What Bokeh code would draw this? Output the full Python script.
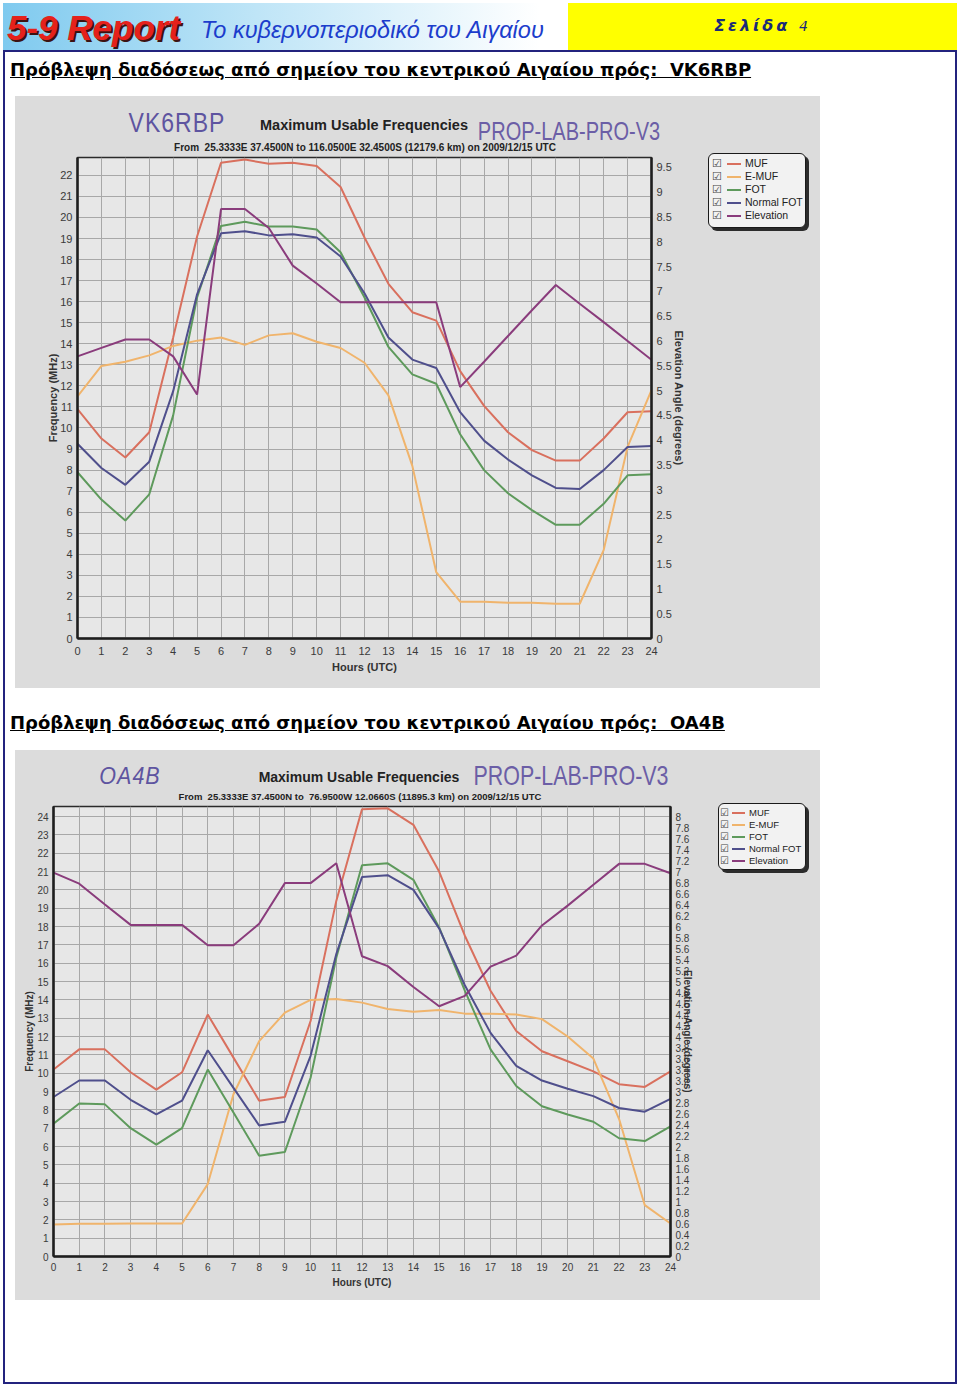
from bokeh.plotting import figure
from bokeh.models import (Range1d, LinearAxis, FixedTicker, CustomJSTickFormatter, Div, Spacer)
from bokeh.layouts import column, row
from bokeh.embed import file_html
from bokeh.resources import INLINE

# ---------------- data ----------------
hours = list(range(25))
series_names = ["MUF", "E-MUF", "FOT", "Normal FOT", "Elevation"]
series_colors = ["#d9705e", "#f0b46c", "#5e9a5c", "#4f4f8c", "#8a3c7c"]

# Chart 1: VK6RBP (MHz, elevation in degrees)
vk_muf = [10.9, 9.5, 8.6, 9.8, 14.3, 19.1, 22.6, 22.75, 22.55, 22.6, 22.45, 21.45, 19.05,
          16.85, 15.5, 15.1, 12.7, 11.05, 9.8, 8.95, 8.45, 8.45, 9.5, 10.75, 10.8]
vk_emuf = [11.5, 12.95, 13.15, 13.45, 13.9, 14.15, 14.3, 13.95, 14.4, 14.5, 14.1, 13.8, 13.1,
           11.55, 8.2, 3.15, 1.75, 1.75, 1.7, 1.7, 1.65, 1.65, 4.2, 9.1, 11.8]
vk_fot = [7.9, 6.6, 5.6, 6.85, 10.6, 16.2, 19.6, 19.8, 19.57, 19.57, 19.43, 18.35, 16.2,
          13.85, 12.55, 12.1, 9.7, 8.0, 6.9, 6.1, 5.4, 5.4, 6.4, 7.75, 7.8]
vk_nfot = [9.25, 8.1, 7.3, 8.4, 11.75, 16.35, 19.25, 19.35, 19.15, 19.2, 19.05, 18.15, 16.4,
           14.3, 13.25, 12.85, 10.75, 9.4, 8.5, 7.75, 7.15, 7.1, 8.0, 9.1, 9.15]
vk_elev = [5.69, 5.86, 6.03, 6.03, 5.69, 4.92, 8.66, 8.66, 8.28, 7.52, 7.16, 6.78, 6.78,
           6.78, 6.78, 6.78, 5.07, 5.58, 6.1, 6.62, 7.13, 6.75, 6.38, 6.0, 5.62]
vk_freq_ticks = [0, 1, 2, 3, 4, 5, 6, 7, 8, 9, 10, 11, 12, 13, 14, 15, 16, 17, 18, 19, 20, 21, 22]
vk_elev_ticks = [0, 0.5, 1, 1.5, 2, 2.5, 3, 3.5, 4, 4.5, 5, 5.5, 6, 6.5, 7, 7.5, 8, 8.5, 9, 9.5]

# Chart 2: OA4B
oa_muf = [10.2, 11.3, 11.3, 10.05, 9.1, 10.05, 13.2, 10.85, 8.5, 8.7, 12.85, 19.4, 24.4,
          24.45, 23.55, 21.0, 17.5, 14.5, 12.3, 11.2, 10.65, 10.1, 9.4, 9.25, 10.1]
oa_emuf = [1.75, 1.78, 1.78, 1.8, 1.8, 1.8, 3.95, 8.85, 11.75, 13.3, 14.0, 14.05, 13.85,
           13.5, 13.35, 13.45, 13.25, 13.25, 13.2, 12.95, 12.0, 10.8, 7.5, 2.8, 1.8]
oa_fot = [7.25, 8.35, 8.3, 7.0, 6.1, 7.0, 10.2, 7.85, 5.5, 5.7, 9.75, 16.3, 21.35,
          21.45, 20.55, 17.95, 14.5, 11.3, 9.3, 8.2, 7.75, 7.35, 6.45, 6.3, 7.1]
oa_nfot = [8.7, 9.6, 9.6, 8.55, 7.75, 8.5, 11.25, 9.2, 7.15, 7.35, 10.95, 16.5, 20.7,
           20.8, 20.0, 17.9, 14.8, 12.2, 10.4, 9.6, 9.15, 8.75, 8.1, 7.9, 8.6]
oa_elev = [6.98, 6.78, 6.4, 6.03, 6.03, 6.03, 5.66, 5.66, 6.05, 6.79, 6.79, 7.15, 5.46,
           5.28, 4.9, 4.55, 4.74, 5.27, 5.47, 6.02, 6.38, 6.76, 7.14, 7.14, 6.97]
oa_freq_ticks = [0, 1, 2, 3, 4, 5, 6, 7, 8, 9, 10, 11, 12, 13, 14, 15, 16, 17, 18, 19, 20,
                 21, 22, 23, 24]
oa_elev_ticks = [0, 0.2, 0.4, 0.6, 0.8, 1, 1.2, 1.4, 1.6, 1.8, 2, 2.2, 2.4, 2.6, 2.8, 3,
                 3.2, 3.4, 3.6, 3.8, 4, 4.2, 4.4, 4.6, 4.8, 5, 5.2, 5.4, 5.6, 5.8, 6, 6.2,
                 6.4, 6.6, 6.8, 7, 7.2, 7.4, 7.6, 7.8, 8]

header_brand = "5-9 Report"
header_sub = "Το κυβερνοπεριοδικό του Αιγαίου"
header_page = "Σελίδα"
header_page_no = "4"
heading1 = "Πρόβλεψη διαδόσεως από σημείον του κεντρικού Αιγαίου πρός:  VK6RBP"
heading2 = "Πρόβλεψη διαδόσεως από σημείον του κεντρικού Αιγαίου πρός:  OA4B"
chart_title = "Maximum Usable Frequencies"
hand_prog = "PROP-LAB-PRO-V3"
sub1 = "From  25.3333E 37.4500N to 116.0500E 32.4500S (12179.6 km) on 2009/12/15 UTC"
sub2 = "From  25.3333E 37.4500N to  76.9500W 12.0660S (11895.3 km) on 2009/12/15 UTC"

# ---------------- styling ----------------
PAGE_BG = "#dcdcdc"
PLOT_BG = "#e7e7e7"
GRID = "#a8a8a8"
LEG_BG = "#f2f2f2"
HAND = "'Liberation Sans',sans-serif"


def make_fig(cfg):
    p = figure(width=cfg["W"], height=cfg["H"], x_range=Range1d(0, 24),
               y_range=Range1d(0, cfg["ymax"]), output_backend="svg", toolbar_location=None,
               min_border_left=cfg["bl"], min_border_right=cfg["br"],
               min_border_top=cfg["bt"], min_border_bottom=cfg["bb"],
               background_fill_color=PLOT_BG, border_fill_color=PAGE_BG,
               outline_line_color="#2a2a2a", outline_line_width=1.5, margin=0)
    p.extra_y_ranges = {"elev": Range1d(0, cfg["emax"])}
    xa = p.xaxis[0]
    ya = p.yaxis[0]
    xa.ticker = FixedTicker(ticks=hours)
    ya.ticker = FixedTicker(ticks=cfg["fticks"])
    ea = LinearAxis(y_range_name="elev", ticker=FixedTicker(ticks=cfg["eticks"]),
                    formatter=CustomJSTickFormatter(code="return String(Math.round(tick*10)/10);"))
    p.add_layout(ea, "right")
    xa.axis_label = "Hours (UTC)"
    ya.axis_label = "Frequency (MHz)"
    ea.axis_label = "Elevation Angle (degrees)"
    for ax in (xa, ya, ea):
        ax.axis_line_color = "#1e1e1e"
        ax.axis_line_width = 2.5
        ax.major_tick_in = 0
        ax.major_tick_out = 0
        ax.minor_tick_in = 0
        ax.minor_tick_out = 0
        ax.major_label_text_font = "Liberation Sans"
        ax.major_label_text_font_size = cfg["tick_fs"]
        ax.major_label_text_color = "#3a3a3a"
        ax.axis_label_text_font = "Liberation Sans"
        ax.axis_label_text_font_style = "bold"
        ax.axis_label_text_font_size = cfg["lab_fs"]
        ax.axis_label_text_color = "#333333"
        ax.major_label_standoff = 5
    xa.major_label_standoff = cfg["x_std"]
    xa.axis_label_standoff = 3
    ya.axis_label_standoff = cfg["y_lab_std"]
    ea.axis_label_standoff = cfg["e_lab_std"]
    p.xgrid.ticker = FixedTicker(ticks=hours)
    p.ygrid.ticker = FixedTicker(ticks=cfg["fticks"])
    p.grid.grid_line_color = GRID
    p.grid.grid_line_width = 1

    for col, ys in zip(series_colors[:4], cfg["series"]):
        p.line(hours, ys, line_color=col, line_width=2)
    p.line(hours, cfg["elev"], line_color=series_colors[4], line_width=2, y_range_name="elev")
    return p


def strip_div(cfg):
    spans = []
    for txt, x, y, fs, weight, style, color, font, ls, sy in cfg["texts"]:
        spans.append(
            f"<span style=\"position:absolute;left:{x}px;top:{y}px;"
            f"transform:translate(-50%,-50%) scaleY({sy});"
            f"white-space:pre;font-family:{font};font-size:{fs}px;font-weight:{weight};"
            f"font-style:{style};color:{color};letter-spacing:{ls}px;line-height:1;\">{txt}</span>")
    html = (f"<div style=\"position:relative;width:{cfg['W']}px;height:{cfg['SH']}px;"
            f"background:{PAGE_BG};overflow:hidden;\">" + "".join(spans) + "</div>")
    return Div(text=html, width=cfg["W"], height=cfg["SH"], margin=0,
               styles={"background": PAGE_BG})


def legend_div(cfg):
    lg = cfg["leg"]
    rows = []
    for name, colr in zip(series_names, series_colors):
        rows.append(
            f"<div style=\"height:{lg['rh']}px;display:flex;align-items:center;white-space:nowrap;\">"
            f"<span style=\"display:inline-block;width:{lg['cw']}px;font-family:'DejaVu Sans';"
            f"font-size:{lg['cfs']}px;color:#444;line-height:1;\">☑</span>"
            f"<span style=\"display:inline-block;width:{lg['lw']}px;height:2px;background:{colr};"
            f"margin:0 4px 0 {lg['gap']}px;\"></span>"
            f"<span>{name}</span></div>")
    box = (f"<div style=\"position:absolute;left:{lg['x']}px;top:{lg['y']}px;width:{lg['w']}px;"
           f"height:{lg['h']}px;box-sizing:border-box;background:{LEG_BG};"
           f"border:1.5px solid #1a1a1a;border-radius:6px;box-shadow:3px 3px 0 #2c2c2c;"
           f"font-family:'Liberation Sans';font-size:{lg['fs']}px;color:#222;"
           f"padding:{lg['pt']}px 0 0 {lg['pl']}px;\">" + "".join(rows) + "</div>")
    html = (f"<div style=\"position:relative;width:{cfg['SW']}px;height:{cfg['TH']}px;"
            f"background:{PAGE_BG};\">" + box + "</div>")
    return Div(text=html, width=cfg["SW"], height=cfg["TH"], margin=0,
               styles={"background": PAGE_BG})


def make_block(cfg):
    fig = make_fig(cfg)
    left = column(strip_div(cfg), fig, spacing=0, margin=0, styles={"background": PAGE_BG})
    return row(left, legend_div(cfg), spacing=0, margin=(0, 0, 0, 10),
               styles={"background": PAGE_BG})


cfg1 = dict(W=676, H=534, SH=58, SW=129, TH=592, bl=62, br=40, bt=3, bb=50,
            ymax=22.85, emax=9.70, fticks=vk_freq_ticks, eticks=vk_elev_ticks,
            tick_fs="11px", lab_fs="11px", x_std=8, y_lab_std=-2, e_lab_std=-2,
            series=[vk_muf, vk_emuf, vk_fot, vk_nfot], elev=vk_elev,
            texts=[("VK6RBP", 162, 27, 23, "normal", "normal", "#5e54a0", HAND, 1, 1.2),
                   (chart_title, 349, 29, 14.5, "bold", "normal", "#222", "'Liberation Sans'", 0, 1),
                   (hand_prog, 554, 35, 20, "normal", "normal", "#6b5ea6", HAND, 0, 1.3),
                   (sub1, 350, 52, 10, "bold", "normal", "#222", "'Liberation Sans'", 0, 1)],
            leg=dict(x=17, y=57, w=98, h=75, rh=13, pt=3, pl=3, cw=11, gap=4, lw=14,
                     fs=10.5, cfs=11))

cfg2 = dict(W=685, H=497, SH=53, SW=120, TH=550, bl=38, br=30, bt=3, bb=44,
            ymax=24.55, emax=8.183, fticks=oa_freq_ticks, eticks=oa_elev_ticks,
            tick_fs="10px", lab_fs="10px", x_std=6, y_lab_std=-1, e_lab_std=-10,
            series=[oa_muf, oa_emuf, oa_fot, oa_nfot], elev=oa_elev,
            texts=[("OA4B", 115, 27, 21.5, "normal", "italic", "#5e54a0", HAND, 1, 1.1),
                   (chart_title, 344, 27, 14, "bold", "normal", "#222", "'Liberation Sans'", 0, 1),
                   (hand_prog, 556, 27, 21.4, "normal", "normal", "#6b5ea6", HAND, 0, 1.25),
                   (sub2, 345, 47, 9.5, "bold", "normal", "#222", "'Liberation Sans'", 0, 1)],
            leg=dict(x=18, y=53, w=88, h=67, rh=12, pt=3, pl=1, cw=10, gap=2, lw=13,
                     fs=9.5, cfs=10))

block1 = make_block(cfg1)
block2 = make_block(cfg2)

header_html = f"""
<div style="display:flex;width:954px;height:47px;">
  <div style="width:565px;height:47px;background:linear-gradient(to right,#7fcaef 0%,#bfe5f7 45%,#ffffff 95%);display:flex;align-items:center;">
    <span style="font-family:'Liberation Sans';font-size:35px;font-weight:bold;font-style:italic;color:#e5211b;text-shadow:2px 2px 0 #3c1212;margin-left:4px;margin-top:2px;">{header_brand}</span>
    <span style="font-family:'Liberation Sans';font-size:23.5px;font-style:italic;color:#1c3dcc;margin-left:21px;margin-top:9px;">{header_sub}</span>
  </div>
  <div style="width:389px;height:47px;background:#ffff00;display:flex;align-items:center;justify-content:center;">
    <span style="font-family:'DejaVu Sans';font-size:16px;font-weight:bold;font-style:italic;color:#1a2a78;letter-spacing:3px;">{header_page} <span style="font-weight:normal;font-size:14px;">{header_page_no}</span></span>
  </div>
</div>
"""


def heading_html(txt, top):
    return (f"<div style=\"font-family:'DejaVu Sans';font-weight:bold;font-size:18px;"
            f"text-decoration:underline;white-space:pre;color:#000;padding:{top}px 0 0 5px;\">{txt}</div>")


header = Div(text=header_html, width=954, height=47, margin=0)
h1 = Div(text=heading_html(heading1, 5), width=950, height=44, margin=0)
h2 = Div(text=heading_html(heading2, 22), width=950, height=62, margin=0)
bottom = Spacer(width=950, height=82, margin=0)

body = column(h1, block1, h2, block2, bottom, spacing=0, margin=0,
              styles={"border": "2px solid #23237e", "background": "#ffffff"})
root = column(header, body, spacing=0, margin=(3, 0, 0, 3))

open("out.html", "w").write(file_html(root, INLINE))
